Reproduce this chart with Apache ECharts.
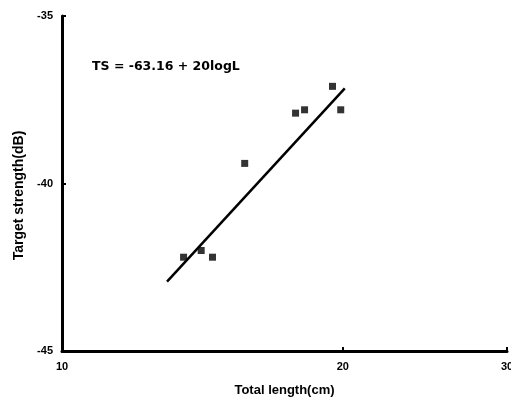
<!DOCTYPE html>
<html><head><meta charset="utf-8">
<script src="https://cdn.jsdelivr.net/npm/echarts@6/dist/echarts.min.js"></script>
<style>html,body{margin:0;padding:0;background:#fff}#c{width:511px;height:403px}</style>
</head><body><div id="c"></div>
<script>
const lengths = [13.5, 14.1, 14.5, 15.7, 17.8, 18.2, 19.5, 19.9];
const strengths = [-42.2, -42.0, -42.2, -39.4, -37.9, -37.8, -37.1, -37.8];
const fitLengths = [12.96, 20.1];
const fitStrengths = [-42.93, -37.16];
const xTicks = [10, 20, 30];
const yTicks = [-45, -40, -35];

const chart = echarts.init(document.getElementById('c'));
const font = 'Liberation Sans';
chart.setOption({
  animation: false,
  title: {
    text: 'TS = -63.16 + 20logL',
    left: 87, top: 55,
    textStyle: {fontFamily: 'DejaVu Sans', fontSize: 12.5, fontWeight: 'bold', color: '#000'}
  },
  grid: {left: 62, right: 4, top: 16, bottom: 52, outerBoundsMode: 'none', containLabel: false},
  xAxis: {
    type: 'log', logBase: 10, min: 10, max: 30,
    name: 'Total length(cm)', nameLocation: 'middle', nameGap: 33,
    nameTextStyle: {fontFamily: font, fontSize: 13, fontWeight: 'bold', color: '#000'},
    axisLine: {lineStyle: {color: '#000', width: 3}},
    axisTick: {inside: true, length: 4, lineStyle: {color: '#000', width: 2}, customValues: xTicks},
    axisLabel: {customValues: xTicks, fontFamily: font, fontSize: 11, fontWeight: 'bold', color: '#000', margin: 10},
    splitLine: {show: false}, minorTick: {show: false}
  },
  yAxis: {
    type: 'value', min: -45, max: -35, interval: 5,
    name: 'Target strength(dB)', nameLocation: 'middle', nameGap: 31,
    nameTextStyle: {fontFamily: font, fontSize: 14, fontWeight: 'bold', color: '#000', padding: [0, 24, 0, 0]},
    axisLine: {show: true, lineStyle: {color: '#000', width: 3}},
    axisTick: {show: true, inside: true, length: 4, lineStyle: {color: '#000', width: 2}, customValues: yTicks},
    axisLabel: {customValues: yTicks, fontFamily: font, fontSize: 11, fontWeight: 'bold', color: '#000', margin: 9},
    splitLine: {show: false}
  },
  series: [
    {
      type: 'scatter', symbol: 'rect', symbolSize: 7,
      itemStyle: {color: '#000'},
      data: lengths.map((l, i) => [l, strengths[i]])
    },
    {
      type: 'line', symbol: 'none', lineStyle: {color: '#000', width: 2.5},
      data: fitLengths.map((l, i) => [l, fitStrengths[i]])
    }
  ]
});
</script></body></html>
